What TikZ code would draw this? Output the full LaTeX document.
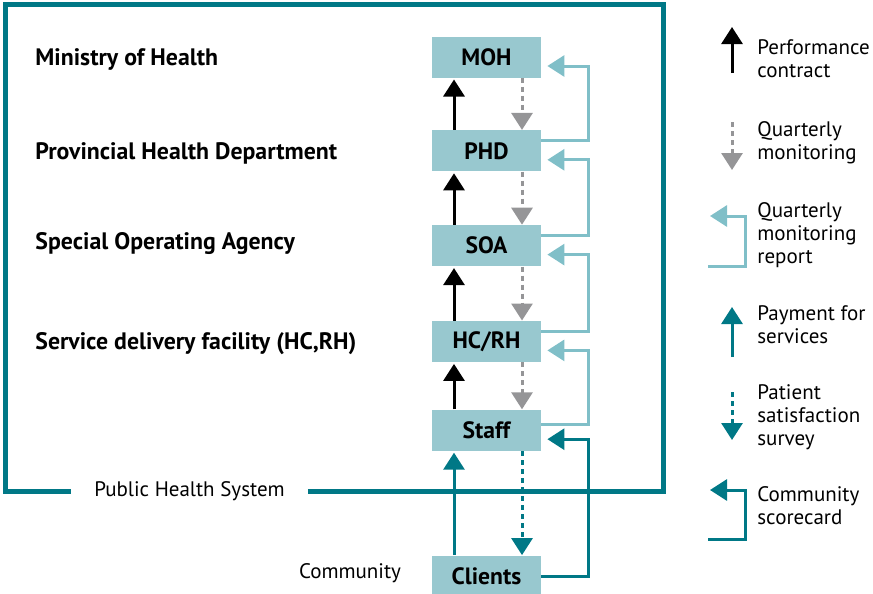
\documentclass[tikz,border=0pt]{standalone}
\usepackage{fontspec}
\setmainfont{PT Sans}
\usepackage{xcolor}
\usetikzlibrary{positioning, arrows.meta}
\definecolor{boxteal}{HTML}{98C8CF}
\definecolor{lightteal}{HTML}{80BFC8}
\definecolor{darkteal}{HTML}{007886}
\definecolor{tipgrey}{HTML}{959597}
\tikzstyle{level} = [rectangle, minimum width=54.5pt, minimum height=20.5pt, inner sep=0pt, fill=boxteal, font=\fontsize{11.8pt}{12.5pt}\selectfont\bfseries]
\tikzstyle{tier} = [anchor=west, inner sep=0pt, text height=8.2pt, text depth=0pt, font=\fontsize{11.9pt}{12.5pt}\selectfont\bfseries]
\tikzstyle{legtext} = [anchor=west, align=left, inner sep=0pt, font=\fontsize{10.5pt}{11.5pt}\selectfont]
\tikzstyle{plain} = [inner sep=0pt, font=\fontsize{10.5pt}{11.5pt}\selectfont]
\tikzstyle{tip} = [-{Triangle[length=8.5pt, width=10.5pt]}]
\tikzstyle{contract} = [tip, line width=1.5pt, black]
\tikzstyle{monitor} = [tip, line width=1.5pt, tipgrey, dash pattern=on 2.5pt off 2pt]
\tikzstyle{report} = [tip, line width=1.5pt, lightteal]
\tikzstyle{payment} = [tip, line width=1.5pt, darkteal]
\tikzstyle{survey} = [tip, line width=1.5pt, darkteal, dash pattern=on 2.5pt off 2pt]
\tikzstyle{scorecard} = [tip, line width=1.5pt, darkteal]
\tikzstyle{frame} = [line width=2.5pt, darkteal]

\begin{document}
\begin{tikzpicture}[x=0.5pt, y=-0.5pt]
        \useasboundingbox (0,0) rectangle (873,594);

        % Boxes
        \node [level] (moh) at (486.5,57) {MOH};
        \node [level, below=26pt of moh] (phd) {PHD};
        \node [level, below=26.5pt of phd] (soa) {SOA};
        \node [level, below=27pt of soa] (hcrh) {HC/RH};
        \node [level, below=23.5pt of hcrh] (staff) {Staff};
        \node [level, below=52pt of staff] (clients) {Clients};

        % Tier labels
        \node [tier] (l_moh) at (35,0 |- moh) {Ministry of Health};
        \node [tier] (l_phd) at (35,0 |- phd) {Provincial Health Department};
        \node [tier, yshift=2pt] (l_soa) at (35,0 |- soa) {Special Operating Agency};
        \node [tier] (l_hcrh) at (35,0 |- hcrh) {Service delivery facility (HC,RH)};

        % Frame
        \node [plain, minimum width=118pt] (phs) at (189.5,491) {Public Health System};
        \draw [frame] (phs.east) -| (663,4) -| (5.8,491) -- (phs.west);
        \node [plain] (community) at (350,573) {Community};

        % Arrows
        \draw [contract] ([xshift=-16.25pt]phd.north) -- ([xshift=-16.25pt, yshift=-0.8pt]moh.south);
        \draw [contract] ([xshift=-16.25pt]soa.north) -- ([xshift=-16.25pt, yshift=-0.8pt]phd.south);
        \draw [contract] ([xshift=-16.25pt]hcrh.north) -- ([xshift=-16.25pt, yshift=-0.8pt]soa.south);
        \draw [contract] ([xshift=-16.25pt]staff.north) -- ([xshift=-16.25pt, yshift=-0.8pt]hcrh.south);
        \draw [payment] ([xshift=-16.25pt]clients.north) -- ([xshift=-16.25pt, yshift=-0.8pt]staff.south);

        \draw [monitor] ([xshift=17.75pt]moh.south) -- ([xshift=17.75pt]phd.north);
        \draw [monitor] ([xshift=17.75pt]phd.south) -- ([xshift=17.75pt]soa.north);
        \draw [monitor] ([xshift=17.75pt]soa.south) -- ([xshift=17.75pt]hcrh.north);
        \draw [monitor] ([xshift=17.75pt]hcrh.south) -- ([xshift=17.75pt]staff.north);
        \draw [survey] ([xshift=17.75pt]staff.south) -- ([xshift=17.75pt]clients.north);

        \draw [report] ([yshift=5pt]phd.east) -- ++(23.5pt,0) |- ([xshift=3pt, yshift=-4.5pt]moh.east);
        \draw [report] ([yshift=5pt]soa.east) -- ++(23.5pt,0) |- ([xshift=3pt, yshift=-4.5pt]phd.east);
        \draw [report] ([yshift=5pt]hcrh.east) -- ++(23.5pt,0) |- ([xshift=3pt, yshift=-4.5pt]soa.east);
        \draw [report] ([yshift=3pt]staff.east) -- ++(23.5pt,0) |- ([xshift=3pt, yshift=-4.5pt]hcrh.east);
        \draw [scorecard] (clients.east) -- ++(23.5pt,0) |- ([xshift=3pt, yshift=-4.5pt]staff.east);

        % Legend
        \node [legtext] (lg_perf) at (757,58.5) {Performance\\contract};
        \coordinate (perf_a) at (732,73);
        \coordinate (perf_b) at (732,27);
        \draw [contract] (perf_a) -- (perf_b);

        \node [legtext] (lg_mon) at (757,142.5) {Quarterly\\monitoring};
        \coordinate (mon_a) at (732,122);
        \coordinate (mon_b) at (732,170);
        \draw [monitor] (mon_a) -- (mon_b);

        \node [legtext] (lg_rep) at (757,235.5) {Quarterly\\monitoring\\report};
        \coordinate (rep_a) at (708,266);
        \coordinate (rep_c) at (745,216);
        \coordinate (rep_b) at (710,216);
        \draw [report] (rep_a) -| (rep_c) -- (rep_b);

        \node [legtext] (lg_pay) at (757,324.5) {Payment for\\services};
        \coordinate (pay_a) at (732,357);
        \coordinate (pay_b) at (732,307);
        \draw [payment] (pay_a) -- (pay_b);

        \node [legtext] (lg_sur) at (757,417) {Patient\\satisfaction\\survey};
        \coordinate (sur_a) at (732,392);
        \coordinate (sur_b) at (732,440);
        \draw [survey] (sur_a) -- (sur_b);

        \node [legtext] (lg_sc) at (757,506) {Community\\scorecard};
        \coordinate (sc_a) at (708,539);
        \coordinate (sc_c) at (745,490);
        \coordinate (sc_b) at (710,490);
        \draw [scorecard] (sc_a) -| (sc_c) -- (sc_b);
    \end{tikzpicture}
\end{document}
